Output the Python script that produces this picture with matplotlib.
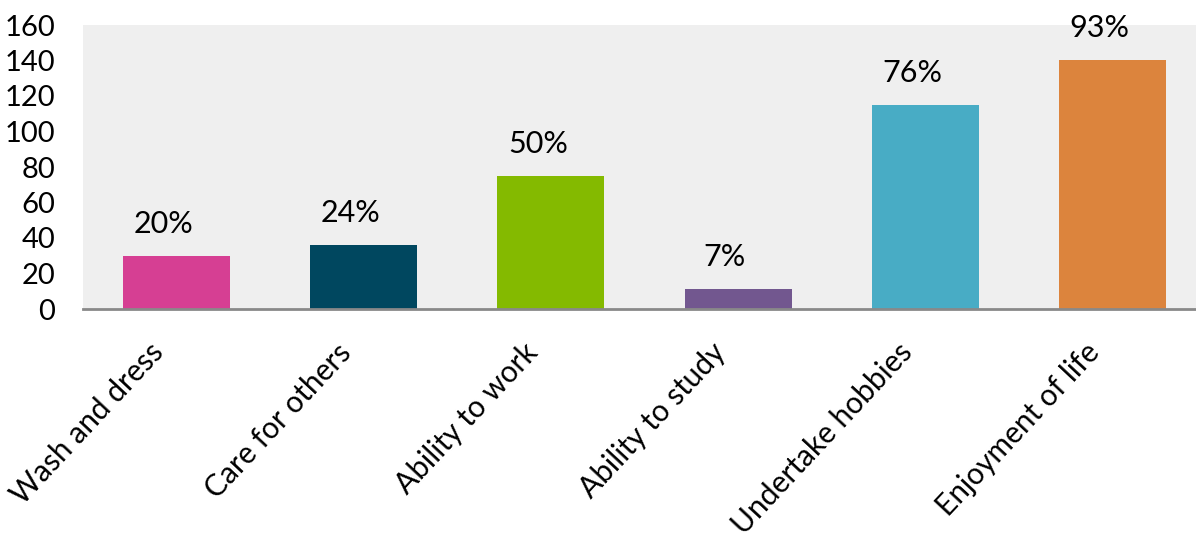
import matplotlib.pyplot as plt
from matplotlib.transforms import ScaledTranslation

plt.rcParams['font.family'] = ['Lato', 'DejaVu Sans']

categories = ['Wash and dress', 'Care for others', 'Ability to work',
              'Ability to study', 'Undertake hobbies', 'Enjoyment of life']
counts = [30, 36, 75, 11, 115, 140]
pct_labels = ['20%', '24%', '50%', '7%', '76%', '93%']
colors = ['#D63F93', '#00475F', '#84BA00', '#72578F', '#48ACC5', '#DC843D']

fig = plt.figure(figsize=(11.96, 5.38), dpi=100)
# plot area runs slightly past the right edge of the canvas
ax = fig.add_axes([83 / 1196, 229 / 538, 1123 / 1196, 284 / 538])
ax.set_facecolor('#EFEFEF')

x = range(len(categories))
bars = ax.bar(x, counts, width=0.572, color=colors)

for bar, lab in zip(bars, pct_labels):
    ax.annotate(lab, (bar.get_x() + bar.get_width() / 2 - 0.07, bar.get_height()),
                xytext=(0, 13), textcoords='offset points',
                ha='center', va='bottom', fontsize=22)

ax.set_xlim(-0.5, 5.5)
ax.set_ylim(0, 160)
ax.set_yticks(range(0, 161, 20))
ax.set_xticks(list(x))
ax.set_xticklabels(categories, rotation=47, ha='right', rotation_mode='anchor',
                   fontsize=21.5)
ax.tick_params(axis='y', length=0, labelsize=21, pad=20)
ax.tick_params(axis='x', length=0, pad=8)

# nudge the slanted category labels left and down
shift = ScaledTranslation(-28 / 100, -18 / 100, fig.dpi_scale_trans)
for lbl in ax.get_xticklabels():
    lbl.set_transform(lbl.get_transform() + shift)

for side in ['top', 'right', 'left']:
    ax.spines[side].set_visible(False)
ax.spines['bottom'].set_color('#898989')
ax.spines['bottom'].set_linewidth(2)

fig.savefig('out.png', dpi=100)
